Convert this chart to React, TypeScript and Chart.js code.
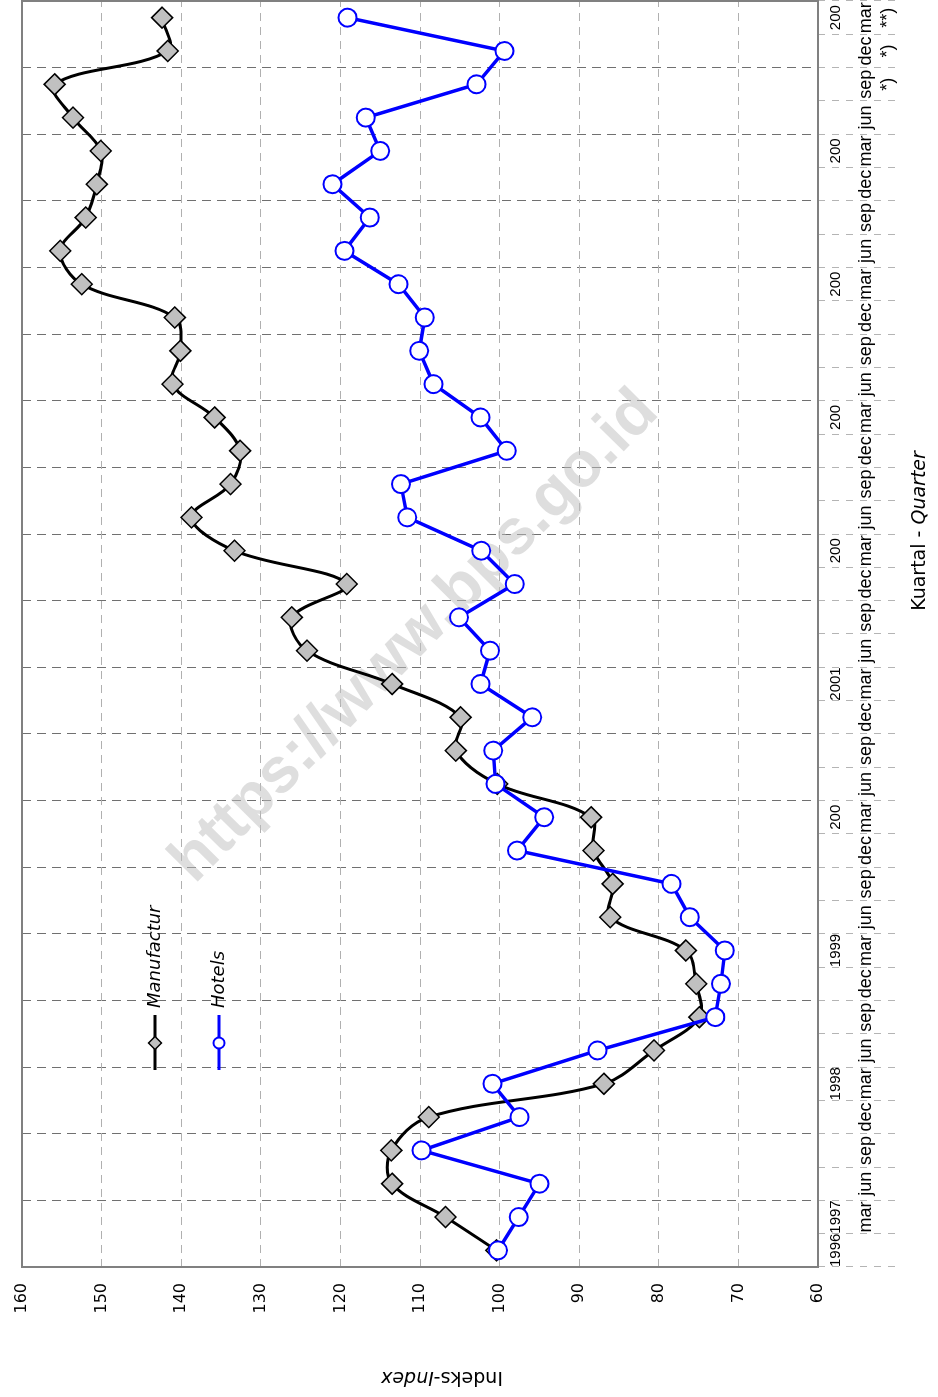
import React, { useEffect, useRef } from 'react';
import { Chart, registerables } from 'chart.js';

Chart.register(...registerables);

// Category labels (quarters), first row: year, second row: quarter, third: note
const yearLabels = [
  '1996', '1997', '', '', '',
  '1998', '', '', '',
  '1999', '', '', '',
  '200', '', '', '',
  '2001', '', '', '',
  '200', '', '', '',
  '200', '', '', '',
  '200', '', '', '',
  '200', '', '', '',
  '200',
];
const quarterLabels = [
  '', 'mar', 'jun', 'sep', 'dec',
  'mar', 'jun', 'sep', 'dec',
  'mar', 'jun', 'sep', 'dec',
  'mar', 'jun', 'sep', 'dec',
  'mar', 'jun', 'sep', 'dec',
  'mar', 'jun', 'sep', 'dec',
  'mar', 'jun', 'sep', 'dec',
  'mar', 'jun', 'sep', 'dec',
  'mar', 'jun', 'sep', 'dec',
  'mar',
];
const noteLabels = [
  '', '', '', '', '', '', '', '', '', '', '', '', '', '', '', '', '', '', '', '',
  '', '', '', '', '', '', '', '', '', '', '', '', '', '', '', '*)', '*)', '**)',
];

const manufactur = [
  100.4, 106.8, 113.5, 113.6, 108.9,
  86.9, 80.6, 74.9, 75.3,
  76.6, 86.1, 85.8, 88.2,
  88.5, 100.3, 105.5, 104.9,
  113.5, 124.2, 126.1, 119.2,
  133.3, 138.7, 133.8, 132.6,
  135.8, 141.1, 140.1, 140.8,
  152.5, 155.2, 152.0, 150.6,
  150.1, 153.6, 155.9, 141.7,
  142.4,
];
const hotels = [
  100.2, 97.6, 95.0, 109.8, 97.5,
  100.9, 87.7, 72.9, 72.2,
  71.7, 76.1, 78.4, 97.8,
  94.4, 100.5, 100.8, 95.9,
  102.4, 101.2, 105.1, 98.1,
  102.3, 111.6, 112.4, 99.1,
  102.4, 108.3, 110.1, 109.4,
  112.7, 119.5, 116.3, 121.0,
  115.0, 116.8, 102.9, 99.4,
  119.1,
];

const seriesNames = ['Manufactur', 'Hotels'];
const valueMin = 60;
const valueMax = 160;
const valueStep = 10;

const CANVAS_W = 1397;
const CANVAS_H = 938;

const decorPlugin = {
  id: 'decor',
  beforeDatasetsDraw(chart: any) {
    const { ctx, chartArea: a } = chart;
    // watermark
    ctx.save();
    ctx.translate(760, 415);
    ctx.rotate((44.7 * Math.PI) / 180);
    ctx.font = 'bold 64px "Liberation Sans", Arial, sans-serif';
    ctx.fillStyle = 'rgba(190,190,190,0.5)';
    ctx.textAlign = 'center';
    ctx.textBaseline = 'middle';
    ctx.fillText('https://www.bps.go.id', 0, 0);
    ctx.restore();
    // frame
    ctx.save();
    ctx.strokeStyle = '#808080';
    ctx.lineWidth = 2;
    ctx.strokeRect(a.left, a.top, a.right - a.left, a.bottom - a.top);
    ctx.restore();
  },
  afterDraw(chart: any) {
    const { ctx } = chart;
    const drawMixed = (parts: { t: string; italic: boolean }[], cx: number, cy: number, rot: number, size: number) => {
      ctx.save();
      ctx.translate(cx, cy);
      ctx.rotate(rot);
      ctx.textBaseline = 'middle';
      ctx.textAlign = 'left';
      ctx.fillStyle = '#000';
      const fonts = parts.map((p) => `${p.italic ? 'italic ' : ''}${size}px "DejaVu Sans", Verdana, sans-serif`);
      let total = 0;
      const widths = parts.map((p, i) => {
        ctx.font = fonts[i];
        const w = ctx.measureText(p.t).width;
        total += w;
        return w;
      });
      let x = -total / 2;
      parts.forEach((p, i) => {
        ctx.font = fonts[i];
        ctx.fillText(p.t, x, 0);
        x += widths[i];
      });
      ctx.restore();
    };
    // x axis title
    drawMixed([{ t: 'Kuartal - ', italic: false }, { t: 'Quarter', italic: true }], 866, 920, 0, 19);
    // y axis title
    drawMixed([{ t: 'Indeks-', italic: false }, { t: 'Index', italic: true }], 20, 442, -Math.PI / 2, 19);

    // legend
    const items = [
      { label: seriesNames[0], y: 155, color: '#000000', kind: 'diamond' },
      { label: seriesNames[1], y: 219, color: '#0000ff', kind: 'circle' },
    ];
    items.forEach((it) => {
      ctx.save();
      ctx.strokeStyle = it.color;
      ctx.lineWidth = 3;
      ctx.beginPath();
      ctx.moveTo(327, it.y);
      ctx.lineTo(382, it.y);
      ctx.stroke();
      const mx = 354;
      if (it.kind === 'diamond') {
        const r = 6.5;
        ctx.beginPath();
        ctx.moveTo(mx - r, it.y);
        ctx.lineTo(mx, it.y - r);
        ctx.lineTo(mx + r, it.y);
        ctx.lineTo(mx, it.y + r);
        ctx.closePath();
        ctx.fillStyle = '#c0c0c0';
        ctx.fill();
        ctx.lineWidth = 1.5;
        ctx.strokeStyle = '#000';
        ctx.stroke();
      } else {
        ctx.beginPath();
        ctx.arc(mx, it.y, 5.5, 0, Math.PI * 2);
        ctx.fillStyle = '#fff';
        ctx.fill();
        ctx.lineWidth = 2;
        ctx.strokeStyle = it.color;
        ctx.stroke();
      }
      ctx.font = 'italic 18px "DejaVu Sans", Verdana, sans-serif';
      ctx.fillStyle = '#000';
      ctx.textAlign = 'left';
      ctx.textBaseline = 'middle';
      ctx.fillText(it.label, 389, it.y);
      ctx.restore();
    });
  },
};

export default function App() {
  const ref = useRef<HTMLCanvasElement>(null);
  useEffect(() => {
    if (!ref.current) return;
    const monthRows = quarterLabels.map((q, i) => [q, noteLabels[i]]);
    const chart = new Chart(ref.current, {
      type: 'line',
      data: {
        labels: yearLabels,
        datasets: [
          {
            label: seriesNames[0],
            data: manufactur,
            borderColor: '#000000',
            borderWidth: 3,
            tension: 0.35,
            pointStyle: 'rectRot',
            pointRadius: 10.5,
            pointBackgroundColor: '#c0c0c0',
            pointBorderColor: '#000000',
            pointBorderWidth: 1.5,
            order: 2,
          },
          {
            label: seriesNames[1],
            data: hotels,
            borderColor: '#0000ff',
            borderWidth: 3.5,
            tension: 0,
            pointStyle: 'circle',
            pointRadius: 9,
            pointBackgroundColor: '#ffffff',
            pointBorderColor: '#0000ff',
            pointBorderWidth: 2,
            order: 1,
          },
        ],
      },
      options: {
        animation: false,
        responsive: false,
        events: [],
        layout: { autoPadding: false, padding: { top: 22, right: 1, bottom: 0, left: 0 } },
        plugins: { legend: { display: false }, tooltip: { enabled: false } },
        scales: {
          x: {
            type: 'category',
            position: 'bottom',
            offset: true,
            grid: {
              offset: true,
              color: (c: any) => (c.index % 2 === 0 ? '#707070' : 'rgba(0,0,0,0)'),
              lineWidth: 1,
              drawTicks: true,
              tickLength: 78,
              tickColor: '#b4b4b4',
              tickWidth: 1,
              tickBorderDash: [7, 7],
            },
            border: { display: false, dash: [9, 6] },
            ticks: {
              autoSkip: false,
              maxRotation: 0,
              minRotation: 0,
              padding: -69,
              color: '#000',
              font: { family: '"Liberation Sans", Arial, sans-serif', size: 15, lineHeight: 1.2 },
            },
            afterFit: (s: any) => {
              s.height = 30;
              s.paddingLeft = 0;
              s.paddingRight = 0;
            },
          },
          x2: {
            type: 'category',
            position: 'bottom',
            labels: monthRows as any,
            offset: true,
            grid: { display: false, drawTicks: false },
            border: { display: false },
            ticks: {
              autoSkip: false,
              maxRotation: 0,
              minRotation: 0,
              padding: 7,
              color: '#000',
              font: { family: '"Liberation Sans", Arial, sans-serif', size: 18, lineHeight: 22 / 18 },
            },
            afterFit: (s: any) => {
              s.height = 90;
              s.paddingLeft = 0;
              s.paddingRight = 0;
            },
          },
          y: {
            min: valueMin,
            max: valueMax,
            ticks: {
              stepSize: valueStep,
              padding: 16,
              color: '#000',
              font: { family: '"DejaVu Sans", Verdana, sans-serif', size: 16 },
            },
            grid: { color: '#b0b0b0', drawTicks: false, lineWidth: 1 },
            border: { display: false, dash: [8, 6] },
            afterFit: (s: any) => {
              s.width = 130;
              s.paddingTop = 0;
              s.paddingBottom = 0;
            },
          },
        },
      } as any,
      plugins: [decorPlugin],
    });
    return () => chart.destroy();
  }, []);

  return (
    <div
      style={{
        position: 'fixed',
        left: 0,
        top: 0,
        width: 938,
        height: 1397,
        overflow: 'hidden',
        background: '#ffffff',
      }}
    >
      <div
        style={{
          position: 'absolute',
          left: 0,
          top: 0,
          width: CANVAS_W,
          height: CANVAS_H,
          transformOrigin: '0 0',
          transform: `translate(0px, ${CANVAS_W}px) rotate(-90deg)`,
        }}
      >
        <canvas ref={ref} width={CANVAS_W} height={CANVAS_H} style={{ display: 'block', width: CANVAS_W, height: CANVAS_H }} />
      </div>
    </div>
  );
}
